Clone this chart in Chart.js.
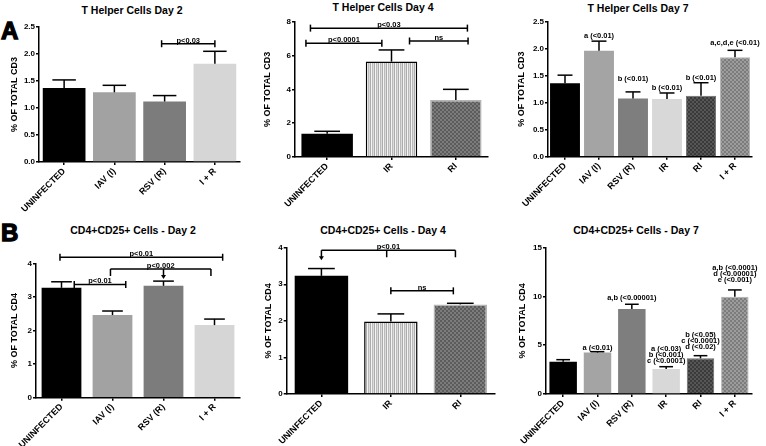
<!DOCTYPE html>
<html>
<head>
<meta charset="utf-8">
<script src="https://cdn.jsdelivr.net/npm/chart.js@4.4.1/dist/chart.umd.min.js"></script>
<style>
  body { margin: 0; background: #fff; width: 766px; height: 446px; position: relative; overflow: hidden;
         font-family: 'Liberation Sans', Arial, sans-serif; }
  canvas { position: absolute; }
  .title { position: absolute; font-weight: bold; font-size: 10.5px; line-height: 12px;
           transform: translateX(-50%); white-space: nowrap; color: #000; }
  .letter { position: absolute; font-weight: bold; font-size: 24px; line-height: 24px;
            -webkit-text-stroke: 1.3px #000; color: #000; }
</style>
</head>
<body>
<div class="letter" style="left:1px;top:18.6px">A</div>
<div class="letter" style="left:1px;top:221px">B</div>

<div class="title" style="left:132px;top:4px">T Helper Cells Day 2</div>
<div class="title" style="left:383px;top:1px">T Helper Cells Day 4</div>
<div class="title" style="left:638px;top:2px">T Helper Cells Day 7</div>
<div class="title" style="left:133px;top:224px">CD4+CD25+ Cells - Day 2</div>
<div class="title" style="left:383px;top:224px">CD4+CD25+ Cells - Day 4</div>
<div class="title" style="left:636px;top:224px">CD4+CD25+ Cells - Day 7</div>

<canvas id="thD2" width="255" height="215" style="left:0;top:0"></canvas>
<canvas id="thD4" width="250" height="215" style="left:255px;top:0"></canvas>
<canvas id="thD7" width="261" height="215" style="left:505px;top:0"></canvas>
<canvas id="trD2" width="255" height="231" style="left:0;top:215px"></canvas>
<canvas id="trD4" width="250" height="231" style="left:255px;top:215px"></canvas>
<canvas id="trD7" width="261" height="231" style="left:505px;top:215px"></canvas>

<script>
// groups
const day2Groups = ['UNINFECTED', 'IAV (I)', 'RSV (R)', 'I + R'];
const day4Groups = ['UNINFECTED', 'IR', 'RI'];
const day7Groups = ['UNINFECTED', 'IAV (I)', 'RSV (R)', 'IR', 'RI', 'I + R'];

// A: T helper cells, % of total CD3 (mean and upper SEM)
const thD2Mean = [1.37, 1.29, 1.12, 1.82];
const thD2Sem = [0.15, 0.13, 0.11, 0.23];
const thD4Mean = [1.38, 5.64, 3.37];
const thD4Sem = [0.14, 0.69, 0.63];
const thD7Mean = [1.36, 1.96, 1.08, 1.07, 1.13, 1.84];
const thD7Sem = [0.15, 0.18, 0.12, 0.11, 0.24, 0.13];

// B: CD4+CD25+ cells, % of total CD4
const trD2Mean = [3.27, 2.46, 3.33, 2.16];
const trD2Sem = [0.18, 0.12, 0.14, 0.18];
const trD4Mean = [3.23, 1.98, 2.45];
const trD4Sem = [0.20, 0.21, 0.03];
const trD7Mean = [3.31, 4.25, 8.72, 2.56, 3.66, 9.98];
const trD7Sem = [0.21, 0.09, 0.48, 0.24, 0.27, 0.69];

// y tick labels
const ticksCD3Day2 = [0, 0.5, 1.0, 1.5, 2.0, 2.5];
const ticksCD3Day4 = [0, 2, 4, 6, 8];
const ticksCD3Day7 = [0, 0.5, 1.0, 1.5, 2.0, 2.5];
const ticksCD4 = [0, 1, 2, 3, 4];
const ticksCD4Day7 = [0, 5, 10, 15];

// significance brackets (group index, may be fractional; height in axis units)
const thD2Sig = [{ from: 1.94, to: 3.0, at: 2.19, text: 'p<0.03' }];
const thD4Sig = [
  { from: -0.26, to: 2.18, at: 7.62, text: 'p<0.03' },
  { from: -0.33, to: 0.85, at: 6.73, text: 'p<0.0001' },
  { from: 1.28, to: 2.19, at: 6.86, text: 'ns' }
];
const trD2Sig = [
  { from: -0.03, to: 3.16, at: 4.18, text: 'p<0.01' },
  { from: 0.96, to: 2.93, at: 3.83, text: 'p<0.002', legs: [0.96, 2.93], arrows: [2.0] },
  { from: 0.25, to: 1.26, at: 3.37, text: 'p<0.01' }
];
const trD4Sig = [
  { from: 0, to: 1.93, at: 3.93, text: 'p<0.01', legs: [0.94, 1.93], arrows: [0] },
  { from: 1.0, to: 1.9, at: 2.82, text: 'ns' }
];

// letter annotations over day 7 bars
const thD7Notes = [[], ['a (<0.01)'], ['b (<0.01)'], ['b (<0.01)'], ['b (<0.01)'], ['a,c,d,e (<0.01)']];
const thD7NoteAt = [0, 2.24, 1.44, 1.27, 1.45, 2.1];
const trD7Notes = [[], ['a (<0.01)'], ['a,b (<0.00001)'],
  ['a (<0.03)', 'b (<0.001)', 'c (<0.0001)'],
  ['b (<0.05)', 'c (<0.0001)', 'd (<0.02)'],
  ['a,b (<0.0001)', 'd (<0.00001)', 'e (<0.001)']];
const trD7NoteAt = [0, 4.75, 9.88, 4.58, 6.05, 12.9];

const font = "'Liberation Sans', Arial, sans-serif";
Chart.defaults.font.family = font;
Chart.defaults.color = '#000';

function pattern(w, h, draw) {
  const c = document.createElement('canvas');
  c.width = w; c.height = h;
  const g = c.getContext('2d');
  draw(g);
  return g.createPattern(c, 'repeat');
}
const stripes = pattern(4, 4, g => {
  ['#f4f4f4', '#bababa', '#dcdcdc', '#acacac'].forEach((col, i) => { g.fillStyle = col; g.fillRect(i, 0, 1, 4); });
});
function hatch(base, ink) {
  return pattern(4, 4, g => {
    g.fillStyle = base; g.fillRect(0, 0, 4, 4);
    g.fillStyle = ink;
    for (let i = 0; i < 4; i++) { g.fillRect(i, i, 1, 1); g.fillRect(3 - i, i, 1, 1); }
  });
}

// error bars, brackets and notes
const extras = {
  id: 'extras',
  afterDatasetsDraw(chart, args, o) {
    const ctx = chart.ctx, xs = chart.scales.x, ys = chart.scales.y;
    const bars = chart.getDatasetMeta(0).data;
    const vals = chart.data.datasets[0].data;
    const seg = (a, b, c, d) => { ctx.beginPath(); ctx.moveTo(a, b); ctx.lineTo(c, d); ctx.stroke(); };
    ctx.save();
    ctx.strokeStyle = '#000';
    ctx.fillStyle = '#000';
    ctx.lineWidth = 1.5;

    o.sem.forEach((s, i) => {
      const b = bars[i];
      const top = ys.getPixelForValue(vals[i] + s);
      const h = b.width * o.cap / 2;
      seg(b.x, b.y, b.x, top);
      seg(b.x - h, top, b.x + h, top);
    });

    ctx.font = 'bold 7.5px ' + font;
    ctx.textAlign = 'center';
    ctx.textBaseline = 'alphabetic';
    (o.sig || []).forEach(s => {
      const x1 = xs.getPixelForValue(s.from), x2 = xs.getPixelForValue(s.to);
      const y = ys.getPixelForValue(s.at);
      seg(x1, y, x2, y);
      if (s.legs) {
        s.legs.forEach(v => { const x = xs.getPixelForValue(v); seg(x, y, x, y + 7); });
        (s.arrows || []).forEach(v => {
          const x = xs.getPixelForValue(v);
          seg(x, y, x, y + 7);
          ctx.beginPath();
          ctx.moveTo(x - 2.5, y + 6); ctx.lineTo(x + 2.5, y + 6); ctx.lineTo(x, y + 10);
          ctx.closePath(); ctx.fill();
        });
      } else {
        seg(x1, y - 3.5, x1, y + 3.5);
        seg(x2, y - 3.5, x2, y + 3.5);
      }
      ctx.fillText(s.text, (x1 + x2) / 2, y - 1);
    });

    ctx.textBaseline = 'middle';
    (o.notes || []).forEach((lines, i) => {
      const y0 = ys.getPixelForValue(o.noteAt[i]);
      lines.forEach((t, k) => ctx.fillText(t, bars[i].x, y0 + k * 6));
    });
    ctx.restore();
  }
};

function panel(id, groups, mean, look, ticks, yTitle, box, extra) {
  const decimals = ticks.some(v => v % 1 !== 0);
  return new Chart(document.getElementById(id), {
    type: 'bar',
    data: {
      labels: groups,
      datasets: [{
        data: mean,
        backgroundColor: look.fill,
        borderColor: look.line || '#000',
        borderWidth: look.lw || 0,
        barPercentage: box.bar,
        categoryPercentage: 1
      }]
    },
    plugins: [extras],
    options: {
      responsive: false,
      animation: false,
      devicePixelRatio: 1,
      layout: { padding: { left: box.padL, top: box.top, right: box.padR, bottom: 0 } },
      plugins: { legend: { display: false }, tooltip: { enabled: false }, extras: extra },
      scales: {
        x: {
          afterFit: s => { s.height = box.xH; },
          grid: { display: true, drawOnChartArea: false, offset: false, tickLength: 3, color: '#000', lineWidth: 1.5 },
          border: { display: true, color: '#000', width: 1.5 },
          ticks: { autoSkip: false, minRotation: 45, maxRotation: 45, padding: 1,
                   font: { size: 9, weight: 'bold' }, color: '#000' }
        },
        y: {
          min: 0,
          max: ticks[ticks.length - 1],
          afterFit: s => { s.width = box.yW; },
          grid: { display: true, drawOnChartArea: false, tickLength: 3, color: '#000', lineWidth: 1.5 },
          border: { display: true, color: '#000', width: 1.5 },
          ticks: { stepSize: ticks[1] - ticks[0], padding: 1, font: { size: 8, weight: 'bold' }, color: '#000',
                   callback: v => decimals ? Number(v).toFixed(1) : v },
          title: { display: true, text: yTitle, padding: 0, font: { size: 9, weight: 'bold' }, color: '#000' }
        }
      }
    }
  });
}

const solidLook = { fill: ['#000000', '#a2a2a2', '#7c7c7c', '#d6d6d6'] };
const day4Look = { fill: ['#000000', stripes, hatch('#7c7c7c', '#5c5c5c')],
                   line: ['#000000', '#000000', '#b4b4b4'], lw: [0, 1.5, 1.5] };
const day7Look = { fill: ['#000000', '#a4a4a4', '#7e7e7e', '#d8d8d8', hatch('#565656', '#3a3a3a'), hatch('#9c9c9c', '#7c7c7c')],
                   line: ['#000', '#000', '#000', '#000', '#6a6a6a', '#b0b0b0'], lw: [0, 0, 0, 0, 1, 1] };

panel('thD2', day2Groups, thD2Mean, solidLook, ticksCD3Day2, '% OF TOTAL CD3',
  { padL: 9.6, yW: 29.4, top: 27, padR: 15, xH: 53, bar: 0.85 },
  { sem: thD2Sem, cap: 0.55, sig: thD2Sig });
panel('thD4', day4Groups, thD4Mean, day4Look, ticksCD3Day4, '% OF TOTAL CD3',
  { padL: 7.6, yW: 32.4, top: 21.7, padR: 17, xH: 58, bar: 0.8 },
  { sem: thD4Sem, cap: 0.5, sig: thD4Sig });
panel('thD7', day7Groups, thD7Mean, day7Look, ticksCD3Day7, '% OF TOTAL CD3',
  { padL: 11.3, yW: 31.7, top: 21.7, padR: 14, xH: 58.3, bar: 0.88 },
  { sem: thD7Sem, cap: 0.5, notes: thD7Notes, noteAt: thD7NoteAt });
panel('trD2', day2Groups, trD2Mean, solidLook, ticksCD4, '% OF TOTAL CD4',
  { padL: 9.6, yW: 26.4, top: 48.3, padR: 15, xH: 48.3, bar: 0.78 },
  { sem: trD2Sem, cap: 0.52, sig: trD2Sig });
panel('trD4', day4Groups, trD4Mean, day4Look, ticksCD4, '% OF TOTAL CD4',
  { padL: 8.6, yW: 23.1, top: 32.7, padR: 10, xH: 52, bar: 0.77 },
  { sem: trD4Sem, cap: 0.5, sig: trD4Sig });
panel('trD7', day7Groups, trD7Mean, day7Look, ticksCD4Day7, '% OF TOTAL CD4',
  { padL: 11.9, yW: 29.1, top: 32.7, padR: 14, xH: 52, bar: 0.8 },
  { sem: trD7Sem, cap: 0.5, notes: trD7Notes, noteAt: trD7NoteAt });
</script>
</body>
</html>
